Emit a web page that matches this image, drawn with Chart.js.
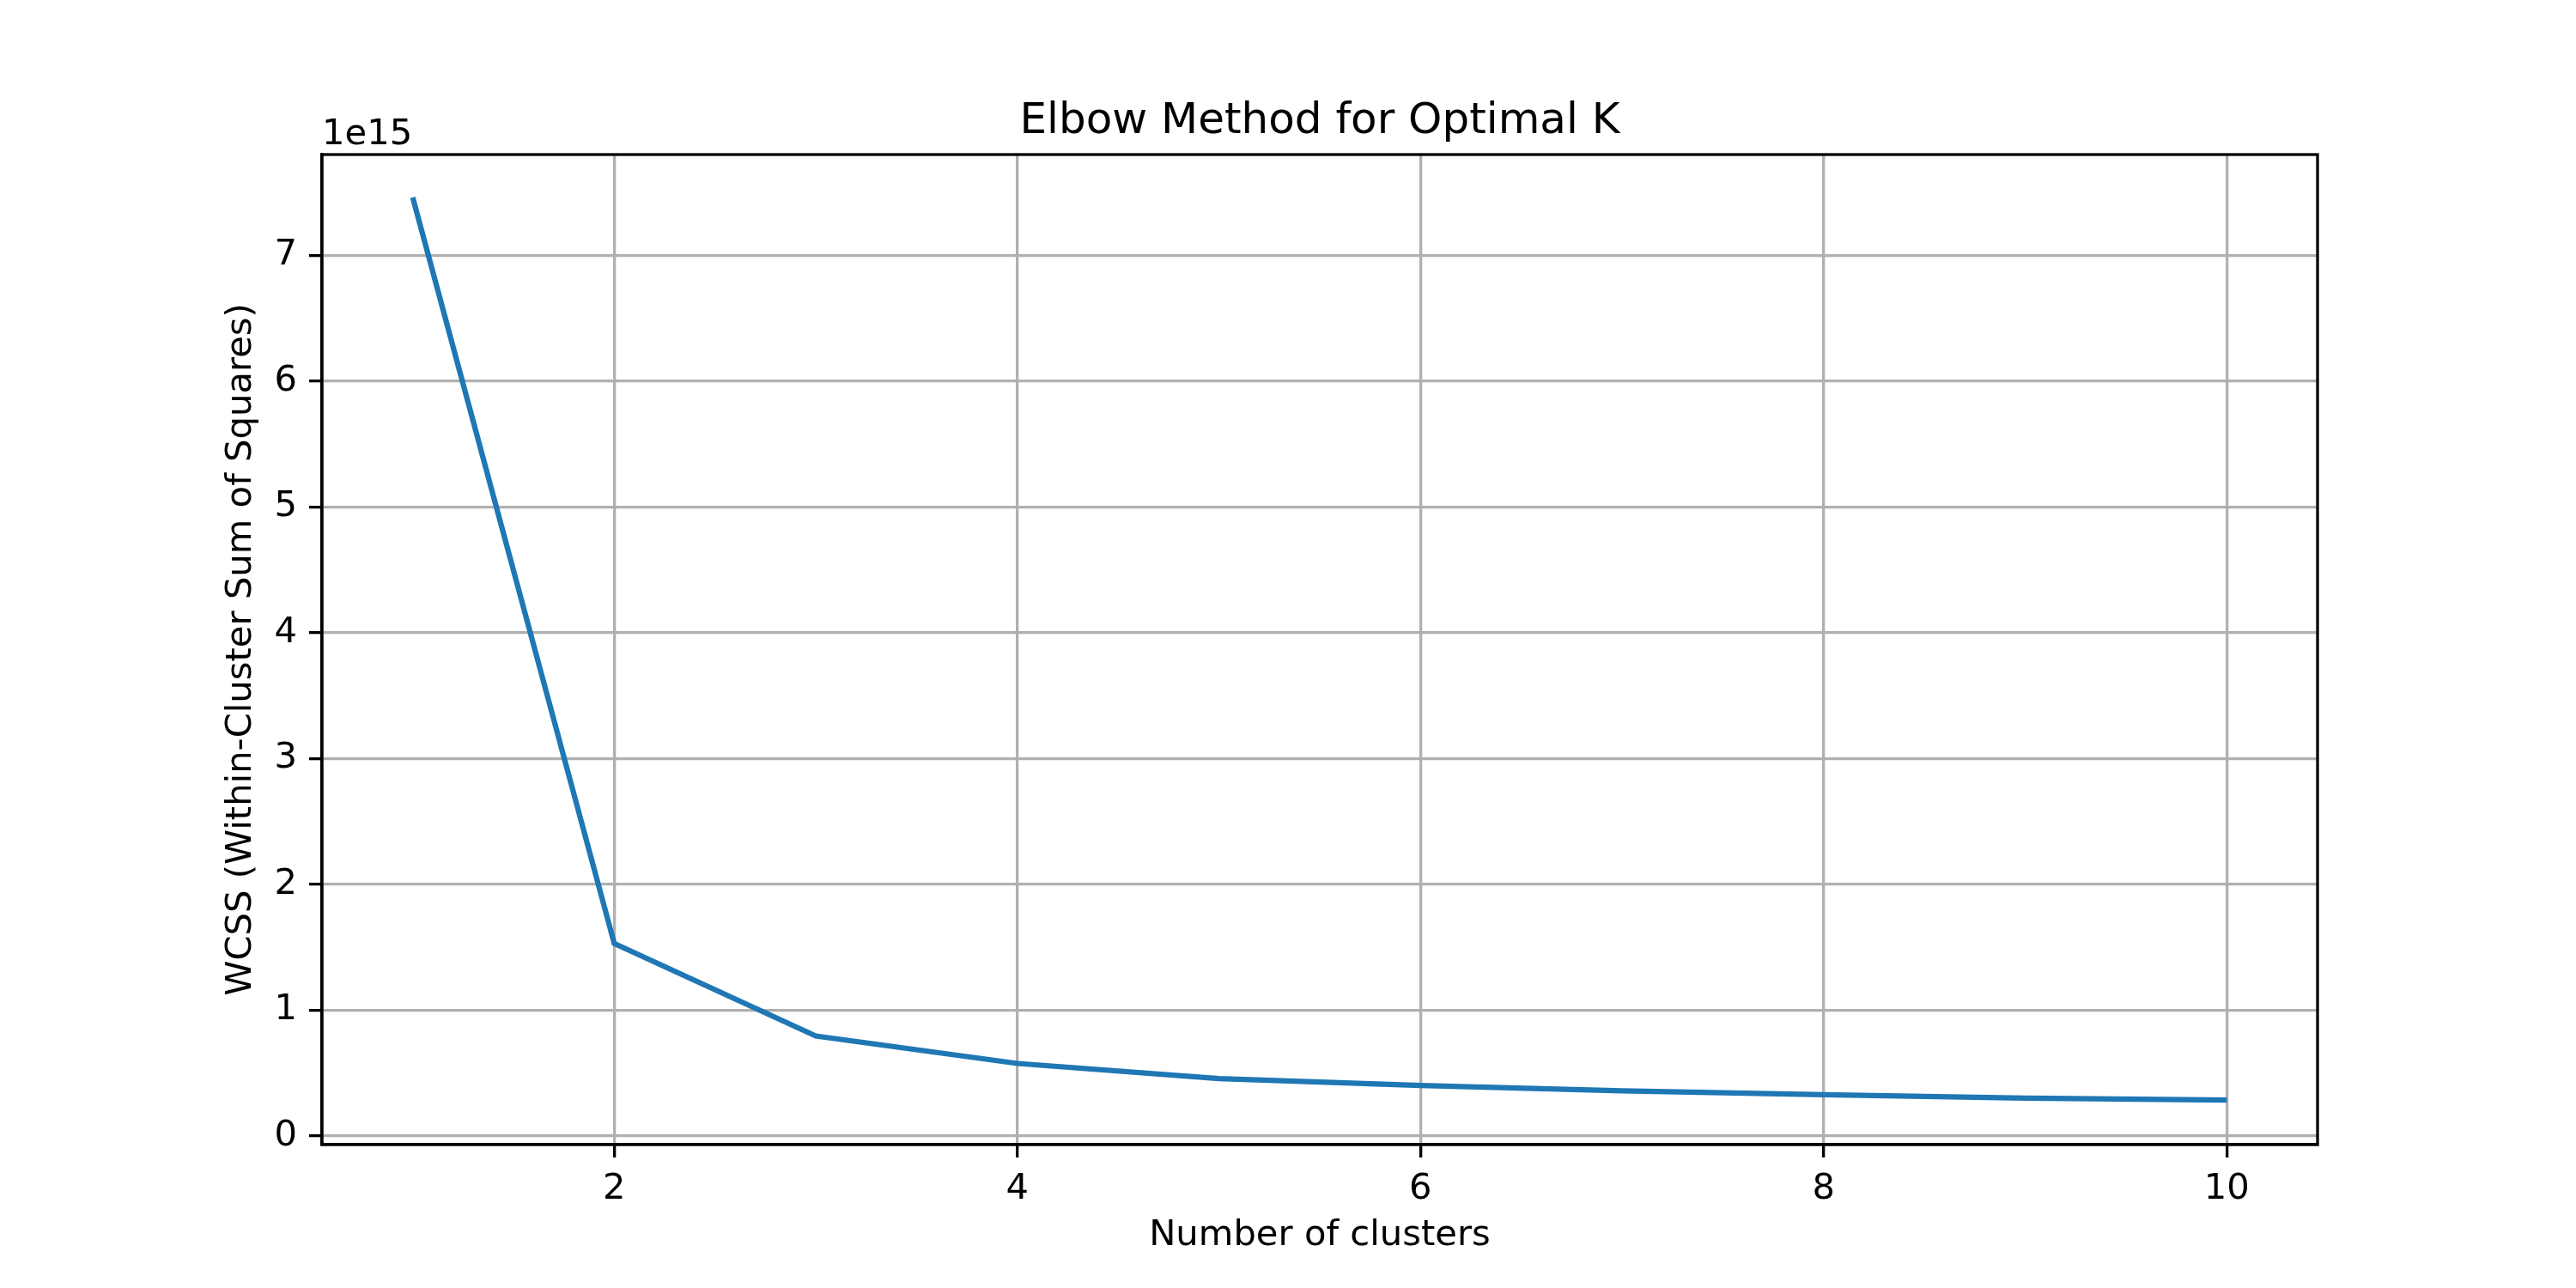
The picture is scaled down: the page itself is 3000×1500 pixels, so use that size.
<!DOCTYPE html>
<html>
<head>
<meta charset="utf-8">
<script src="https://cdn.jsdelivr.net/npm/chart.js@4/dist/chart.umd.min.js"></script>
<style>
  body { margin: 0; background: #fff; }
  #wrap { width: 3000px; height: 1500px; }
</style>
</head>
<body>
<div id="wrap"><canvas id="elbowChart" width="3000" height="1500"></canvas></div>
<script>
// data
var clusters = [1, 2, 3, 4, 5, 6, 7, 8, 9, 10];
var wcss = [7.46e15, 1.528e15, 0.793e15, 0.575e15, 0.455e15, 0.400e15, 0.357e15, 0.327e15, 0.300e15, 0.284e15];
var xTicks = [2, 4, 6, 8, 10];
var yTicks = [0, 1, 2, 3, 4, 5, 6, 7];

var FONT = "'DejaVu Sans', sans-serif";
var px = 41.7; // 10pt at 300 dpi

// title, offset text and top/right spines
var framePlugin = {
    id: 'frame',
    afterDraw: function(chart) {
        var ctx = chart.ctx, a = chart.chartArea;
        ctx.save();
        ctx.strokeStyle = '#000';
        ctx.lineWidth = 3.3;
        ctx.strokeRect(a.left, a.top, a.right - a.left, a.bottom - a.top);
        ctx.fillStyle = '#000';
        ctx.font = '50px ' + FONT;
        ctx.textAlign = 'center';
        ctx.textBaseline = 'middle';
        ctx.fillText('Elbow Method for Optimal K', (a.left + a.right) / 2, 142);
        ctx.font = px + 'px ' + FONT;
        ctx.textAlign = 'left';
        ctx.textBaseline = 'alphabetic';
        ctx.fillText('1e15', a.left, 168);
        ctx.restore();
    }
};

new Chart(document.getElementById('elbowChart'), {
    type: 'line',
    data: {
        datasets: [{
            label: 'WCSS',
            data: clusters.map(function(k, i) { return { x: k, y: wcss[i] }; }),
            borderColor: '#1f77b4',
            borderWidth: 6.25,
            pointRadius: 0,
            tension: 0,
            fill: false
        }]
    },
    options: {
        responsive: false,
        animation: false,
        devicePixelRatio: 1,
        layout: { padding: { top: 180, right: 301, left: 0, bottom: 0 } },
        plugins: { legend: { display: false }, title: { display: false }, tooltip: { enabled: false } },
        scales: {
            x: {
                type: 'linear',
                min: 0.55, max: 10.45,
                afterBuildTicks: function(s) { s.ticks = xTicks.map(function(v) { return { value: v }; }); },
                afterFit: function(s) { s.height = 167; },
                ticks: { font: { family: FONT, size: px }, color: '#000', padding: 12, maxRotation: 0 },
                grid: { color: '#b0b0b0', lineWidth: 3.3, tickColor: '#000', tickLength: 15, tickWidth: 3.3 },
                border: { display: true, color: '#000', width: 3.3 },
                title: { display: true, text: 'Number of clusters', color: '#000', font: { family: FONT, size: px }, padding: { top: 0, bottom: 36 } }
            },
            y: {
                type: 'linear',
                min: -0.07e15, max: 7.8e15,
                afterBuildTicks: function(s) { s.ticks = yTicks.map(function(v) { return { value: v * 1e15 }; }); },
                afterFit: function(s) { s.width = 375; },
                ticks: { font: { family: FONT, size: px }, color: '#000', padding: 14,
                         callback: function(v) { return Math.round(v / 1e15); } },
                grid: { color: '#b0b0b0', lineWidth: 3.3, tickColor: '#000', tickLength: 15, tickWidth: 3.3 },
                border: { display: true, color: '#000', width: 3.3 },
                title: { display: true, text: 'WCSS (Within-Cluster Sum of Squares)', color: '#000', font: { family: FONT, size: px }, padding: { top: 256, bottom: 0 } }
            }
        }
    },
    plugins: [framePlugin]
});
</script>
</body>
</html>
